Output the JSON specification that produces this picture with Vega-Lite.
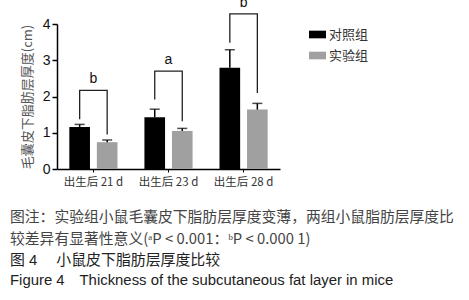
{
  "$schema": "https://vega.github.io/schema/vega-lite/v6.json",
  "autosize": {"type": "none"},
  "width": 223,
  "height": 145,
  "padding": {"left": 57, "top": 24, "right": 189, "bottom": 131},
  "background": "white",
  "config": {
    "view": {"stroke": null},
    "font": "Liberation Sans"
  },
  "title": {
    "text": ["图注：实验组小鼠毛囊皮下脂肪层厚度变薄，两组小鼠脂肪层厚度比", "较差异有显著性意义(ᵃP < 0.001：ᵇP < 0.000 1)"],
    "subtitle": ["图 4\u2003 小鼠皮下脂肪层厚度比较", "Figure 4\u2003Thickness of the subcutaneous fat layer in mice"],
    "orient": "bottom",
    "anchor": "start",
    "frame": "group",
    "dx": -47,
    "offset": 22,
    "font": "Noto Sans CJK SC",
    "fontSize": 14.8,
    "fontWeight": "normal",
    "color": "#444",
    "lineHeight": 22,
    "subtitleFont": "Liberation Sans, Noto Sans CJK SC",
    "subtitleFontSize": 14.9,
    "subtitleColor": "#222",
    "subtitleLineHeight": 20,
    "subtitlePadding": 7
  },
  "datasets": {
    "bars": [
      {"group": "出生后 21 d", "series": "对照组", "value": 1.16, "upper": 1.23},
      {"group": "出生后 21 d", "series": "实验组", "value": 0.74, "upper": 0.80},
      {"group": "出生后 23 d", "series": "对照组", "value": 1.43, "upper": 1.65},
      {"group": "出生后 23 d", "series": "实验组", "value": 1.05, "upper": 1.12},
      {"group": "出生后 28 d", "series": "对照组", "value": 2.79, "upper": 3.29},
      {"group": "出生后 28 d", "series": "实验组", "value": 1.64, "upper": 1.81}
    ],
    "brackets": [
      {"group": "出生后 21 d", "series": "对照组", "idx": 1, "y": 1.37},
      {"group": "出生后 21 d", "series": "对照组", "idx": 2, "y": 2.17},
      {"group": "出生后 21 d", "series": "实验组", "idx": 3, "y": 2.17},
      {"group": "出生后 21 d", "series": "实验组", "idx": 4, "y": 0.95},
      {"group": "出生后 23 d", "series": "对照组", "idx": 1, "y": 1.92},
      {"group": "出生后 23 d", "series": "对照组", "idx": 2, "y": 2.70},
      {"group": "出生后 23 d", "series": "实验组", "idx": 3, "y": 2.70},
      {"group": "出生后 23 d", "series": "实验组", "idx": 4, "y": 1.32},
      {"group": "出生后 28 d", "series": "对照组", "idx": 1, "y": 3.48},
      {"group": "出生后 28 d", "series": "对照组", "idx": 2, "y": 4.28},
      {"group": "出生后 28 d", "series": "实验组", "idx": 3, "y": 4.28},
      {"group": "出生后 28 d", "series": "实验组", "idx": 4, "y": 2.10}
    ],
    "letters": [
      {"group": "出生后 21 d", "label": "b", "y": 2.36},
      {"group": "出生后 23 d", "label": "a", "y": 2.90},
      {"group": "出生后 28 d", "label": "b", "y": 4.46}
    ]
  },
  "encoding": {
    "x": {
      "field": "group",
      "type": "nominal",
      "sort": null,
      "scale": {"paddingInner": 0.256, "paddingOuter": 0.113},
      "axis": {
        "title": null,
        "labelAngle": 0,
        "labelFont": "Noto Sans CJK SC",
        "labelFontSize": 11.5,
        "labelColor": "#333",
        "labelDx": 6,
        "labelPadding": 4,
        "domainColor": "#000",
        "domainWidth": 1.5,
        "tickColor": "#000",
        "tickSize": 3,
        "tickWidth": 1
      }
    },
    "y": {
      "type": "quantitative",
      "scale": {"domain": [0, 4], "nice": false},
      "axis": {
        "title": "毛囊皮下脂肪层厚度(cm)",
        "titleFont": "Noto Sans CJK SC",
        "titleFontSize": 13,
        "titleFontWeight": "normal",
        "titleColor": "#555",
        "titlePadding": 8,
        "tickCount": 5,
        "labelOverlap": false,
        "grid": false,
        "labelFont": "Liberation Sans",
        "labelFontSize": 14,
        "labelColor": "#111",
        "labelPadding": 2,
        "domainColor": "#000",
        "domainWidth": 1.5,
        "tickColor": "#000",
        "tickSize": 5,
        "tickWidth": 1.5
      }
    },
    "xOffset": {"field": "series", "type": "nominal", "sort": ["对照组", "实验组"], "scale": {"paddingInner": 0.25, "paddingOuter": 0.14}}
  },
  "layer": [
    {
      "data": {"name": "bars"},
      "mark": {"type": "bar"},
      "encoding": {
        "y": {"field": "value", "type": "quantitative"},
        "color": {
          "field": "series",
          "type": "nominal",
          "scale": {"domain": ["对照组", "实验组"], "range": ["#000000", "#a0a0a0"]},
          "legend": {
            "title": null,
            "orient": "none",
            "legendX": 252,
            "legendY": 2,
            "symbolType": "M-1,-0.45H1V0.45H-1Z",
            "symbolSize": 289,
            "symbolStrokeWidth": 0,
            "labelFont": "Noto Sans CJK SC",
            "labelFontSize": 13,
            "labelColor": "#333",
            "labelOffset": 3,
            "rowPadding": 5
          }
        }
      }
    },
    {
      "data": {"name": "bars"},
      "mark": {"type": "rule", "color": "#000", "strokeWidth": 1.5},
      "encoding": {
        "y": {"field": "value", "type": "quantitative"},
        "y2": {"field": "upper"}
      }
    },
    {
      "data": {"name": "bars"},
      "mark": {"type": "tick", "color": "#000", "size": 10, "thickness": 1.5, "orient": "horizontal"},
      "encoding": {
        "y": {"field": "upper", "type": "quantitative"}
      }
    },
    {
      "data": {"name": "brackets"},
      "mark": {"type": "line", "color": "#222", "strokeWidth": 1.3, "clip": false},
      "encoding": {
        "y": {"field": "y", "type": "quantitative"},
        "detail": {"field": "group"},
        "order": {"field": "idx", "type": "quantitative"}
      }
    },
    {
      "data": {"name": "letters"},
      "mark": {"type": "text", "font": "Liberation Sans", "fontSize": 14, "color": "#111", "baseline": "alphabetic", "clip": false},
      "encoding": {
        "xOffset": null,
        "y": {"field": "y", "type": "quantitative"},
        "text": {"field": "label"}
      }
    }
  ]
}
